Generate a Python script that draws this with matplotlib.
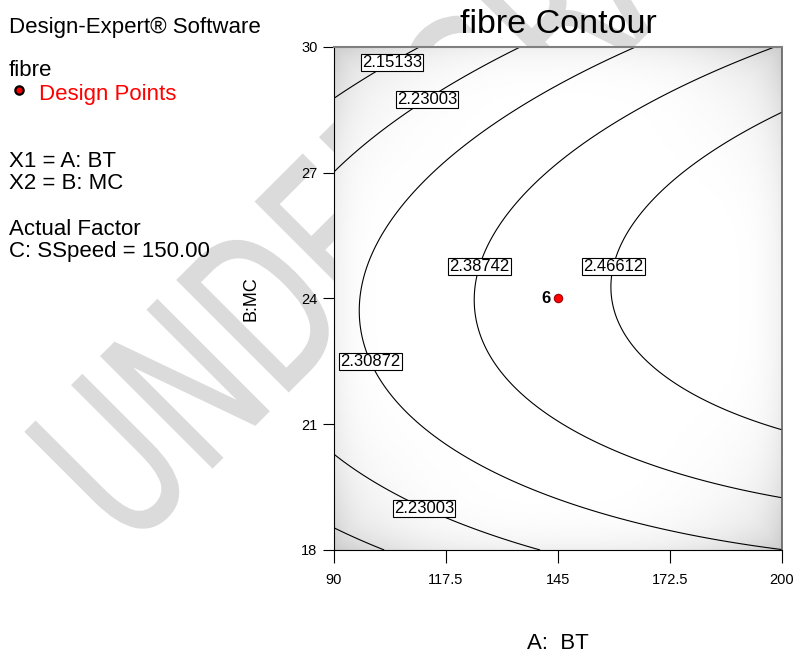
import numpy as np
import matplotlib
matplotlib.use("Agg")
import matplotlib.pyplot as plt
from matplotlib.lines import Line2D
from matplotlib.textpath import TextPath
from matplotlib.patches import PathPatch
from matplotlib.font_manager import FontProperties
from matplotlib.transforms import Affine2D, IdentityTransform

plt.rcParams["font.family"] = ["Liberation Sans", "DejaVu Sans"]

# contour levels shown on the plot
levels = [2.15133, 2.23003, 2.30872, 2.38742, 2.46612]

# fitted quadratic in coded units (A = (BT-145)/55, B = (MC-24)/6), C at 150
b0 = 2.43746
bA = 0.12517
bB = 0.00975
bAB = 0.03177
bAA = -0.02300
bBB = -0.19005

# design point
pt_bt = [145]
pt_mc = [24]
pt_lbl = ["6"]

bt_ticks = [90, 117.5, 145, 172.5, 200]
bt_ticklabels = ["90", "117.5", "145", "172.5", "200"]
mc_ticks = [18, 21, 24, 27, 30]

# where the contour values are printed
label_pos = [(104.2, 29.63), (111.8, 28.9), (124.0, 24.82), (156.6, 24.82),
             (104.2, 22.72), (112.8, 19.13)]

fig = plt.figure(figsize=(7.97, 6.57), dpi=100)

# watermark, sits behind the plot area
wm = TextPath((0, 0), "UNDERGRADUATE", size=1, prop=FontProperties(family="DejaVu Sans"))
wm_tr = Affine2D().scale(144, 216).rotate_deg(45).translate(128, 105)
fig.add_artist(PathPatch(wm_tr.transform_path(wm), fc="#dbdbdb", ec="#dbdbdb",
                         lw=1.2, transform=IdentityTransform(), zorder=-10))

ax = fig.add_axes([0.4191, 0.1629, 0.5621, 0.7656])

gx = np.linspace(90, 200, 221)
gy = np.linspace(18, 30, 241)
BT, MC = np.meshgrid(gx, gy)
A = (BT - 145) / 55
B = (MC - 24) / 6
Z = b0 + bA * A + bB * B + bAB * A * B + bAA * A ** 2 + bBB * B ** 2

# grey shading towards the corners
dark = 0.06 * np.maximum(np.abs(A), np.abs(B)) ** 14 + 0.14 * np.abs(A * B) ** 3
ax.imshow(1 - dark, cmap="gray", vmin=0, vmax=1, extent=[90, 200, 18, 30],
          origin="lower", aspect="auto", interpolation="bilinear", zorder=0)

cs = ax.contour(BT, MC, Z, levels=levels, colors="black", linewidths=0.8, zorder=2)
texts = ax.clabel(cs, levels, manual=label_pos, inline=False, fmt="%.5f",
                  fontsize=12, colors="black")
for t in texts:
    t.set_rotation(0)
    t.set_zorder(4)
    t.set_bbox(dict(boxstyle="square,pad=0.06", fc="white", ec="black", lw=0.8))

ax.plot(pt_bt, pt_mc, "o", ms=6, mfc="red", mec="#a00000", mew=0.8, zorder=5)
for x, y, s in zip(pt_bt, pt_mc, pt_lbl):
    ax.annotate(s, (x, y), xytext=(-9, 0), textcoords="offset points",
                ha="center", va="center", fontsize=12, fontweight="bold", zorder=5)

ax.set_xlim(90, 200)
ax.set_ylim(18, 30)
ax.set_xticks(bt_ticks)
ax.set_xticklabels(bt_ticklabels)
ax.set_yticks(mc_ticks)
ax.tick_params(direction="out", length=8, width=0.8, labelsize=10.5, pad=4)
ax.tick_params(axis="x", length=9.5, pad=7)
ax.spines["top"].set_color("#808080")
ax.spines["top"].set_linewidth(1.5)
ax.spines["right"].set_color("#606060")
ax.spines["right"].set_linewidth(1.2)

ax.set_title("fibre Contour", fontsize=24.5, pad=10)
ax.set_xlabel("A:  BT", fontsize=16, labelpad=33)
ax.set_ylabel("B:MC", fontsize=13, labelpad=30)

# side panel text
fs = 16
fig.text(0.011, 0.950, "Design-Expert\u00ae Software", fontsize=fs, va="baseline")
fig.text(0.011, 0.884, "fibre", fontsize=fs, va="baseline")
fig.text(0.049, 0.848, "Design Points", fontsize=fs, color="red", va="baseline")
fig.add_artist(Line2D([0.024], [0.863], transform=fig.transFigure, marker="o",
                      ms=6, mfc="red", mec="black", mew=1.6))
fig.text(0.011, 0.746, "X1 = A: BT", fontsize=fs, va="baseline")
fig.text(0.011, 0.712, "X2 = B: MC", fontsize=fs, va="baseline")
fig.text(0.011, 0.642, "Actual Factor", fontsize=fs, va="baseline")
fig.text(0.011, 0.609, "C: SSpeed = 150.00", fontsize=fs, va="baseline")

fig.savefig("out.png", dpi=100)
